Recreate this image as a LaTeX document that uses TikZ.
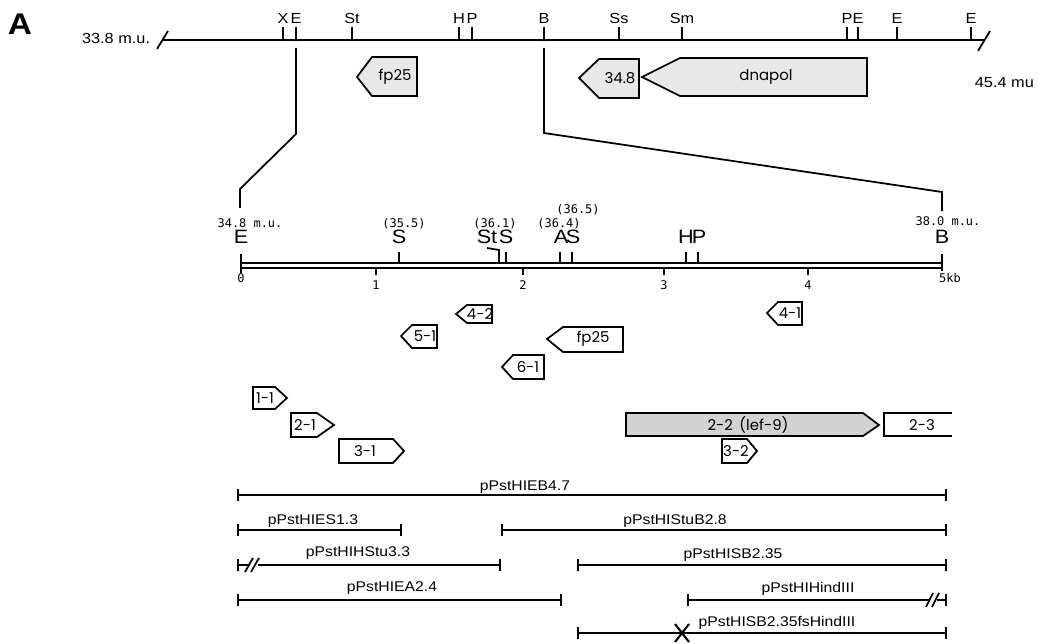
\documentclass[tikz,border=0pt]{standalone}
\usepackage{fontspec}
\setmainfont{Liberation Sans}[FakeStretch=1.12]
\newfontfamily\orffont{Poppins}
\newfontfamily\posfont{DejaVu Sans Mono}
\usetikzlibrary{arrows.meta}

\tikzset{
  site/.style={font=\fontsize{8.3}{10}\selectfont, inner sep=0pt, anchor=base},
  mapsite/.style={font=\fontsize{11}{13}\selectfont, inner sep=0pt, anchor=base},
  mupos/.style={font=\posfont\fontsize{6.8}{8}\selectfont, inner sep=0pt, anchor=base},
  orf/.style={draw, line width=1pt, line join=miter, fill=white},
  orfname/.style={font=\orffont\fontsize{8.5}{10}\selectfont, inner sep=0pt},
  clone/.style={line width=0.9pt, {Bar[width=7pt]}-{Bar[width=7pt]}},
  clonename/.style={font=\fontsize{8}{10}\selectfont, inner sep=0pt, anchor=base},
}

\begin{document}
\begin{tikzpicture}[x=0.02cm, y=-0.02cm, line width=1pt]
\useasboundingbox (0,0) rectangle (1038,644);
\node[font=\bfseries\fontsize{17}{20}\selectfont, inner sep=0pt] (panelA) at (20,24) {A};

% genomic map 33.8 - 45.4 m.u.
\draw[line width=1.1pt] (162,40) -- (984,40);
\draw (157,49) -- (168,31); \draw (978,51) -- (990,31);
\node[site, anchor=base east] (muleft) at (151,44) {33.8 m.u.};
\node[site, anchor=base west] (muright) at (974,88) {45.4 mu};
\foreach \x/\t [count=\i] in {283/X,296/E,352/St,459/H,472/P,544/B,619/Ss,682/Sm,847/P,858/E,897/E,971/E}
  {\draw (\x,27) -- (\x,40); \node[site] (top\i) at (\x,24) {\t};}

\draw[orf, fill=gray!18] (357,77) -- (372,57) -- (417,57) -- (417,96) -- (372,96) -- cycle; \node[orfname] (fpA) at (395,77) {fp25};
\draw[orf, fill=gray!18] (579,78) -- (599,59) -- (639,59) -- (639,98) -- (599,98) -- cycle; \node[orfname] (orf348) at (620,78) {34.8};
\draw[orf, fill=gray!18] (642,77) -- (680,58) -- (867,58) -- (867,96) -- (680,96) -- cycle; \node[orfname] (dnapol) at (766,77) {dnapol};

% expansion lines
\draw (296,48) -- (296,134) -- (240,189) -- (240,208);
\draw (544,48) -- (544,133) -- (942,192) -- (942,211);

% 5 kb map
\draw (241,263) -- (942,263); \draw (241,268) -- (942,268);
\draw (241,254) -- (241,273); \draw (942,254) -- (942,271);
\foreach \x/\k in {376/1,523/2,664/3,808/4} {\draw (\x,268) -- (\x,275); \node[mupos] (kb\k) at (\x,290) {\k};}
\node[mupos] (kb0) at (241,283) {0};
\node[mupos] (kb5) at (950,283) {5kb};
\foreach \x in {399,506,560,572,686,698} \draw (\x,263) -- (\x,252);
\draw (487,248) -- (499,250) -- (499,263);
\foreach \x/\t [count=\i] in {241/E,399/S,487/St,506/S,561/A,573/S,686/H,699/P,942/B}
  {\node[mapsite] (map\i) at (\x,244) {\t};}
\node[mupos] (pos348) at (250,228) {34.8 m.u.};
\node[mupos] (pos355) at (404,228) {(35.5)};
\node[mupos] (pos361) at (495,228) {(36.1)};
\node[mupos] (pos364) at (559,228) {(36.4)};
\node[mupos] (pos365) at (578,214) {(36.5)};
\node[mupos] (pos380) at (948,226) {38.0 m.u.};

% transcripts
\draw[orf] (456,314) -- (467,305) -- (492,305) -- (492,323) -- (467,323) -- cycle; \node[orfname] (t42) at (480,314) {4-2};
\draw[orf] (401,336) -- (412,325) -- (437,325) -- (437,348) -- (412,348) -- cycle; \node[orfname] (t51) at (425,336) {5-1};
\draw[orf] (547,339) -- (563,327) -- (623,327) -- (623,352) -- (563,352) -- cycle; \node[orfname] (fpB) at (593,339) {fp25};
\draw[orf] (502,367) -- (513,355) -- (544,355) -- (544,379) -- (513,379) -- cycle; \node[orfname] (t61) at (528,367) {6-1};
\draw[orf] (767,313) -- (778,302) -- (802,302) -- (802,325) -- (778,325) -- cycle; \node[orfname] (t41) at (790,313) {4-1};
\draw[orf] (253,387) -- (275,387) -- (287,398) -- (275,409) -- (253,409) -- cycle; \node[orfname] (t11) at (265,398) {1-1};
\draw[orf] (291,413) -- (317,413) -- (334,425) -- (317,437) -- (291,437) -- cycle; \node[orfname] (t21) at (305,425) {2-1};
\draw[orf] (339,439) -- (393,439) -- (404,451) -- (393,463) -- (339,463) -- cycle; \node[orfname] (t31) at (365,451) {3-1};
\draw[orf, fill=gray!35] (626,413) -- (863,413) -- (879,425) -- (863,436) -- (626,436) -- cycle; \node[orfname] (t22) at (748,425) {2-2\ \,(lef-9)};
\draw (952,413) -- (884,413) -- (884,436) -- (952,436); \node[orfname] (t23) at (922,425) {2-3};
\draw[orf] (722,439) -- (747,439) -- (757,451) -- (747,463) -- (722,463) -- cycle; \node[orfname] (t32) at (736,451) {3-2};

% clones
\draw[clone] (237,495) -- (947,495); \node[clonename] (cEB) at (525,491) {pPstHIEB4.7};
\draw[clone] (237,530) -- (402,530); \node[clonename] (cES) at (313,525) {pPstHIES1.3};
\draw[clone] (501,530) -- (947,530); \node[clonename] (cStuB) at (675,525) {pPstHIStuB2.8};
\draw[clone, {Bar[width=7pt]}-] (237,565) -- (250,565); \draw[clone, -{Bar[width=7pt]}] (258,565) -- (501,565);
\draw (245,572) -- (253,558); \draw (251,572) -- (259,558);
\node[clonename] (cHStu) at (358,557) {pPstHIHStu3.3};
\draw[clone] (577,565) -- (947,565); \node[clonename] (cSB) at (733,559) {pPstHISB2.35};
\draw[clone] (237,600) -- (562,600); \node[clonename] (cEA) at (392,592) {pPstHIEA2.4};
\draw[clone, {Bar[width=7pt]}-] (687,600) -- (930,600); \draw[clone, -{Bar[width=7pt]}] (937,600) -- (947,600);
\draw (926,607) -- (933,593); \draw (932,607) -- (939,593);
\node[clonename] (cHind) at (808,593) {pPstHIHindIII};
\draw[clone] (577,633) -- (947,633); \node[clonename] (cfs) at (777,627) {pPstHISB2.35fsHindIII};
\draw[line width=1.2pt] (675,624) -- (689,642); \draw[line width=1.2pt] (689,624) -- (675,642);
\end{tikzpicture}
\end{document}
